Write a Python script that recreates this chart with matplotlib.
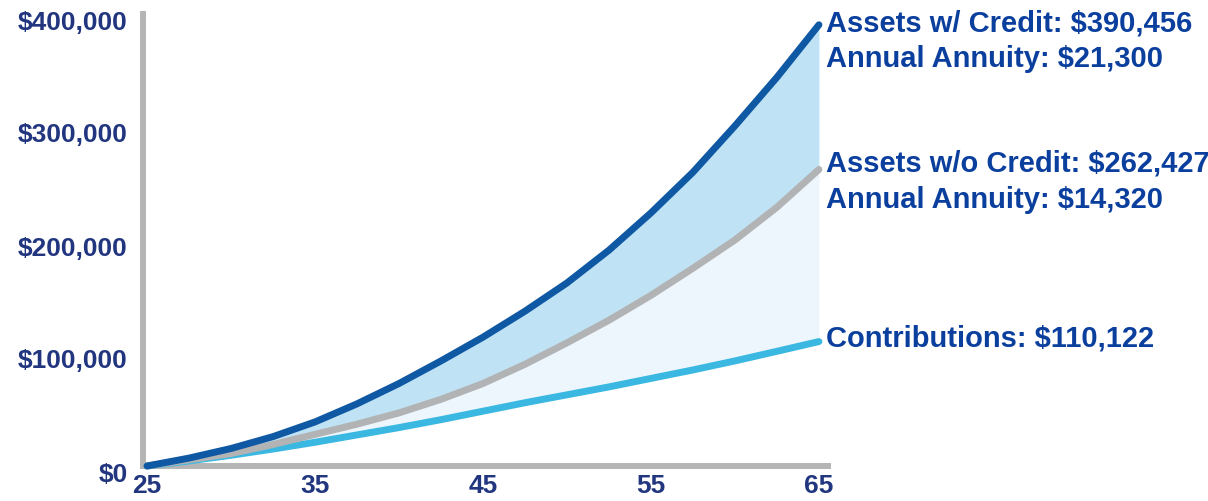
import matplotlib.pyplot as plt
import matplotlib.transforms as mtransforms
from matplotlib.ticker import FuncFormatter

ages = [25, 27.5, 30, 32.5, 35, 37.5, 40, 42.5, 45, 47.5, 50, 52.5, 55, 57.5, 60, 62.5, 65]
assets_credit = [0, 7000, 15500, 26000, 39000, 55000, 73000, 93000, 114000, 137000,
                 162000, 191000, 224000, 260000, 301000, 344000, 390456]
assets_no_credit = [0, 5500, 11000, 19000, 28000, 37000, 47000, 59000, 73000, 90000,
                    109000, 129000, 151000, 175000, 200000, 229000, 262427]
contributions = [0, 4500, 9500, 15000, 21000, 27500, 34000, 41000, 48500, 56000,
                 63000, 70000, 77500, 85000, 93000, 101500, 110122]

x_ticks = [25, 35, 45, 55, 65]
y_ticks = [0, 100000, 200000, 300000, 400000]

navy = '#22367f'
text_blue = '#0b3f9e'
dark_blue = '#0f58a3'
gray = '#b2b3b5'
light_blue = '#3ab8e2'

plt.rcParams['font.family'] = ['Liberation Sans', 'DejaVu Sans']
plt.rcParams['font.weight'] = 'bold'

fig = plt.figure(figsize=(12.08, 5.01), dpi=100)
ax = fig.add_axes([143 / 1208, 35 / 501, 685 / 1208, 452 / 501])

ax.fill_between(ages, assets_no_credit, assets_credit, color='#bfe2f4', lw=0)
ax.fill_between(ages, contributions, assets_no_credit, color='#eef6fd', lw=0)

line_kw = dict(lw=5, solid_capstyle='round', solid_joinstyle='round', clip_on=False)
ax.plot(ages, contributions, color=light_blue, zorder=3, **line_kw)
ax.plot(ages, assets_no_credit, color=gray, zorder=4, **line_kw)
ax.plot(ages, assets_credit, color=dark_blue, zorder=5, **line_kw)

ax.set_xlim(24.76, 65.54)
ax.set_ylim(0, 400000)
ax.set_xticks(x_ticks)
ax.set_yticks(y_ticks)
ax.yaxis.set_major_formatter(FuncFormatter(lambda v, p: '${:,.0f}'.format(v)))
ax.tick_params(length=0, labelsize=19, labelcolor=navy)
ax.tick_params(axis='y', pad=11)
ax.tick_params(axis='x', pad=6, labelsize=19)

# y labels sit a little below their gridline in the original
offset = mtransforms.ScaledTranslation(0, -6 / 100, fig.dpi_scale_trans)
for lbl in ax.get_yticklabels():
    lbl.set_transform(lbl.get_transform() + offset)

for side in ['top', 'right']:
    ax.spines[side].set_visible(False)
for side in ['left', 'bottom']:
    ax.spines[side].set_color('#b5b5b5')
    ax.spines[side].set_linewidth(4.3)

ax.annotate('Assets w/ Credit: $390,456\nAnnual Annuity: $21,300',
            xy=(ages[-1], assets_credit[-1]), xytext=(5, -12), textcoords='offset points',
            va='center', ha='left', fontsize=21, color=text_blue, linespacing=1.36,
            annotation_clip=False)
ax.annotate('Assets w/o Credit: $262,427\nAnnual Annuity: $14,320',
            xy=(ages[-1], assets_no_credit[-1]), xytext=(5, -9), textcoords='offset points',
            va='center', ha='left', fontsize=21, color=text_blue, linespacing=1.36,
            annotation_clip=False)
ax.annotate('Contributions: $110,122',
            xy=(ages[-1], contributions[-1]), xytext=(5, 2), textcoords='offset points',
            va='center', ha='left', fontsize=21, color=text_blue,
            annotation_clip=False)

fig.savefig('out.png', dpi=100)
